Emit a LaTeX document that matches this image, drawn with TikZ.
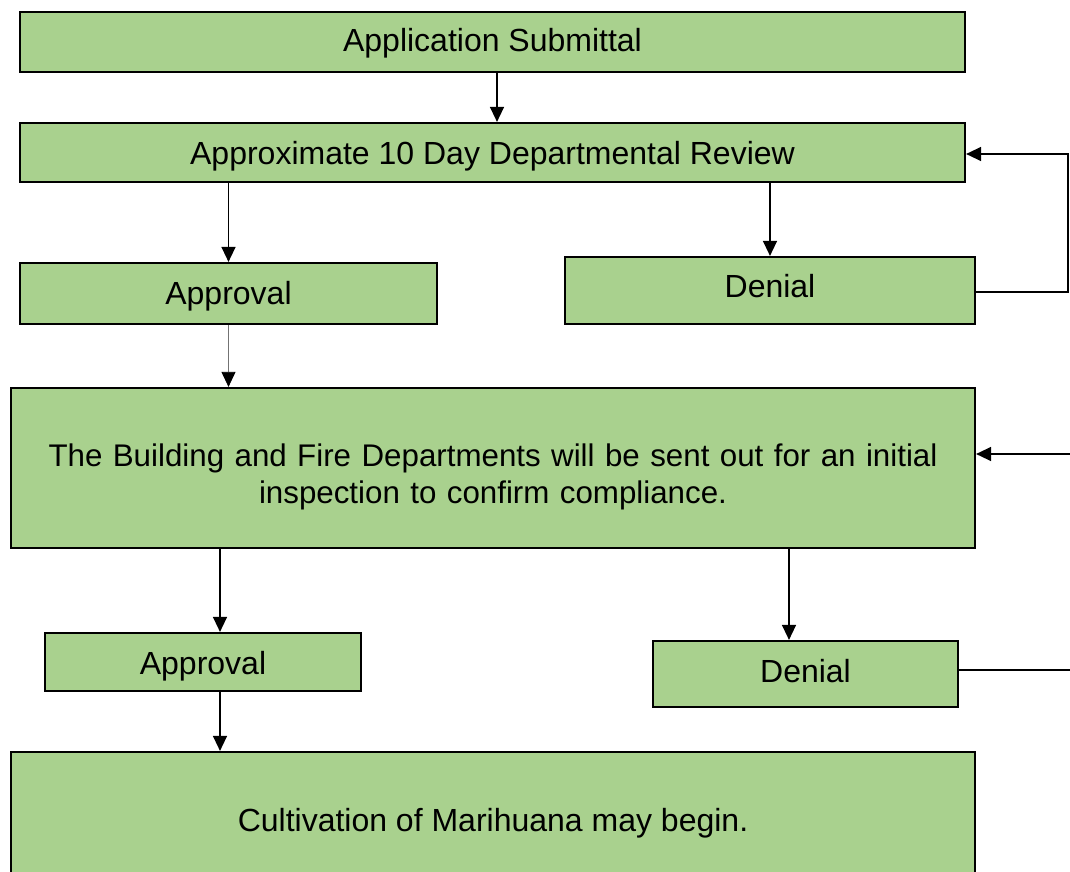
\documentclass[tikz,border=0pt]{standalone}
\usepackage{fontspec}
\setmainfont{Liberation Sans}
\usetikzlibrary{arrows.meta}
\definecolor{stagegreen}{HTML}{A9D18E}
\tikzset{
	stagebox/.style={draw=black, fill=stagegreen, line width=2.2pt, inner sep=0pt, align=center, font=\fontsize{32}{37}\selectfont},
	stageline/.style={stagebox, text height=23pt, text depth=7pt},
	flow/.style={line width=1.4pt, -{Triangle[length=15pt,width=14pt,color=black]}},
}

\begin{document}
\begin{tikzpicture}[x=1pt, y=-1pt]
			%%%%% START %%%%%
			\useasboundingbox (0, 0) rectangle (1070, 872);
			
			\node[stageline, minimum width=945, minimum height=60] (sub) at (492.5, 42) {\raisebox{-2pt}{Application Submittal}};
			\node[stageline, minimum width=945, minimum height=59] (rev) at (492.5, 152.5) {\raisebox{-3.5pt}{Approximate 10 Day Departmental Review}};
			
			\node[stageline, minimum width=417, minimum height=61] (appA) at (228.5, 293.5) {\raisebox{-2.5pt}{Approval}};
			\node[stageline, minimum width=410, minimum height=67] (denA) at (770, 290.5) {\raisebox{1pt}{Denial}};
			
			\node[stagebox, minimum width=964, minimum height=160, text width=940, font=\fontsize{31.3}{37}\selectfont] (insp) at (493, 468) {\rule{0pt}{41pt}The Building and Fire Departments will be sent out for an initial\\inspection to confirm compliance.};
			
			\node[stageline, minimum width=316, minimum height=58] (appB) at (203, 662) {\raisebox{-4pt}{Approval}};
			\node[stageline, minimum width=305, minimum height=66] (denB) at (805.5, 674) {Denial};
			
			\node[stageline, minimum width=964, minimum height=136] (cult) at (493, 820) {\raisebox{-3pt}{Cultivation of Marihuana may begin.}};
			
			\coordinate (loopA) at (1068, 0);
			\coordinate (edgeB) at (1080, 454);
			\coordinate (colL) at (220, 0);
			\coordinate (colR) at (789, 0);
			
			\draw[flow] ([xshift=4.5]sub.south) -- ([xshift=4.5]rev.north);
			\draw[flow] (rev.south -| appA.north) -- (appA.north);
			\draw[flow] (rev.south -| denA.north) -- (denA.north);
			\draw[flow] ([yshift=-1.5]denA.east) -- ([yshift=-1.5]denA.east -| loopA) |- ([yshift=-1.5]rev.east);
			
			\draw[flow, line width=0.8pt, draw=black!55] (appA.south) -- (appA.south |- insp.north);
			\draw[flow] (edgeB) -- (edgeB -| insp.east);
			
			\draw[flow] (insp.south -| colL) -- (appB.north -| colL);
			\draw[flow] (insp.south -| colR) -- (denB.north -| colR);
			\draw[line width=1.4pt] ([yshift=4]denB.east) -- ++(120, 0);
			
			\draw[flow] (appB.south -| colL) -- (cult.north -| colL);
			%%%%% END %%%%%
\end{tikzpicture}
\end{document}
